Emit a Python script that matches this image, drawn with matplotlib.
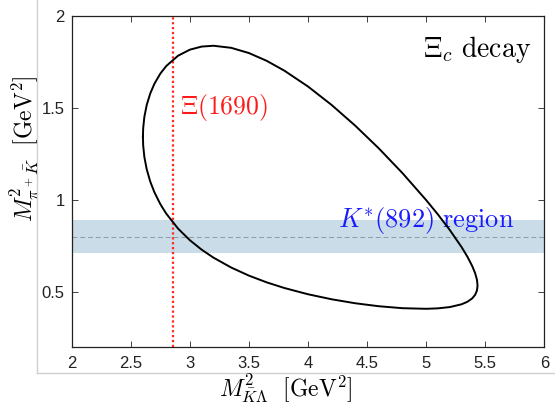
import matplotlib
matplotlib.use("Agg")
import matplotlib.pyplot as plt
from matplotlib.lines import Line2D

plt.rcParams['mathtext.fontset'] = 'cm'
plt.rcParams['font.family'] = ['Liberation Sans', 'DejaVu Sans']

# Dalitz boundary: M^2(K Lambda) and the upper / lower branches of M^2(pi K)
x_upper = [2.6027, 2.605, 2.615, 2.635, 2.665, 2.70, 2.75, 2.80, 2.90, 3.00, 3.10, 3.20,
           3.35, 3.50, 3.65, 3.80, 4.00, 4.20, 4.40, 4.60, 4.80, 5.00, 5.10, 5.20,
           5.30, 5.35, 5.39, 5.415, 5.43, 5.4351]
y_upper = [1.3415, 1.3886, 1.4498, 1.5147, 1.5774, 1.6298, 1.6850, 1.7261, 1.7823, 1.8153,
           1.8321, 1.8366, 1.8253, 1.7969, 1.7547, 1.7011, 1.6149, 1.5145, 1.4018, 1.2781,
           1.1436, 0.9974, 0.9188, 0.8347, 0.7416, 0.6884, 0.6385, 0.5991, 0.5641, 0.5328]
x_lower = [5.43, 5.415, 5.39, 5.35, 5.30, 5.20, 5.10, 5.00, 4.80, 4.60, 4.40, 4.20, 4.00,
           3.80, 3.65, 3.50, 3.35, 3.20, 3.10, 3.00, 2.90, 2.80, 2.75, 2.70, 2.665, 2.635,
           2.615, 2.605, 2.6027]
y_lower = [0.5056, 0.4825, 0.4628, 0.4446, 0.4307, 0.4155, 0.4086, 0.4061, 0.4094, 0.4200,
           0.4362, 0.4579, 0.4852, 0.5192, 0.5500, 0.5865, 0.6305, 0.6842, 0.7276, 0.7792,
           0.8424, 0.9238, 0.9755, 1.0398, 1.0977, 1.1645, 1.2318, 1.2942, 1.3415]

xi1690_line = 2.856          # (1.690 GeV)^2
kstar_center = 0.796         # (0.892 GeV)^2
kstar_low = 0.709
kstar_high = 0.887

x_ticks = [2, 2.5, 3, 3.5, 4, 4.5, 5, 5.5, 6]
x_tick_labels = ['2', '2.5', '3', '3.5', '4', '4.5', '5', '5.5', '6']
y_ticks = [0.5, 1, 1.5, 2]
y_tick_labels = ['0.5', '1', '1.5', '2']

W, H = 555, 408
fig = plt.figure(figsize=(W / 100, H / 100), dpi=100)
ax = fig.add_axes([71.7 / W, 1 - 346.7 / H, (544.3 - 71.7) / W, (346.7 - 15.7) / H])

ax.axhspan(kstar_low, kstar_high, color='#c9dce7', lw=0, zorder=1)
ax.axhline(kstar_center, color='#8a9aa4', lw=0.7, ls=(0, (5, 3)), zorder=2)
ax.axvline(xi1690_line, color='#ff2a1a', lw=1.6, ls=(0, (1, 1.2)), zorder=3)

bx = x_upper + x_lower
by = y_upper + y_lower
ax.plot(bx, by, color='black', lw=1.4, zorder=4, solid_joinstyle='round')

ax.set_xlim(2, 6)
ax.set_ylim(0.2, 2)
ax.set_xticks(x_ticks)
ax.set_xticklabels(x_tick_labels)
ax.set_yticks(y_ticks)
ax.set_yticklabels(y_tick_labels)
ax.tick_params(direction='in', length=4, width=0.6, labelsize=12, top=True, right=True,
               colors='#222222')
ax.tick_params(axis='x', pad=7)
ax.tick_params(axis='y', pad=5)
for s in ax.spines.values():
    s.set_linewidth(0.9)
    s.set_color('#222222')

ax.text(2.92, 1.5, r'$\Xi(1690)$', color='#ff1a1a', fontsize=18.5, va='center', ha='left')
ax.text(0.972, 0.945, r'$\Xi_c\ \mathrm{decay}$', transform=ax.transAxes, fontsize=20,
        ha='right', va='top', color='black')
ax.text(5.745, 0.853, r'$K^{*}(892)\ \mathrm{region}$', color='#1a1aff', fontsize=19,
        ha='right', va='baseline', zorder=3.5)

fig.text(286 / W, 1 - 397 / H, r'$M^2_{\bar{K}\Lambda}\ \ [\mathrm{GeV}^2]$', fontsize=17,
         ha='center', va='baseline')
fig.text(24 / W, 1 - 149 / H, r'$M^2_{\pi^+\bar{K}}\ \ [\mathrm{GeV}^2]$', fontsize=17,
         ha='center', va='center', rotation=90)

# light frame around the figure
fig.add_artist(Line2D([37.3 / W, 37.3 / W], [1.0, 1 - 372.7 / H], transform=fig.transFigure,
                      color='#d0d0d0', lw=1))
fig.add_artist(Line2D([37.3 / W, 1.0], [1 - 372.7 / H, 1 - 372.7 / H], transform=fig.transFigure,
                      color='#d0d0d0', lw=1))

fig.savefig('out.png', dpi=100)
